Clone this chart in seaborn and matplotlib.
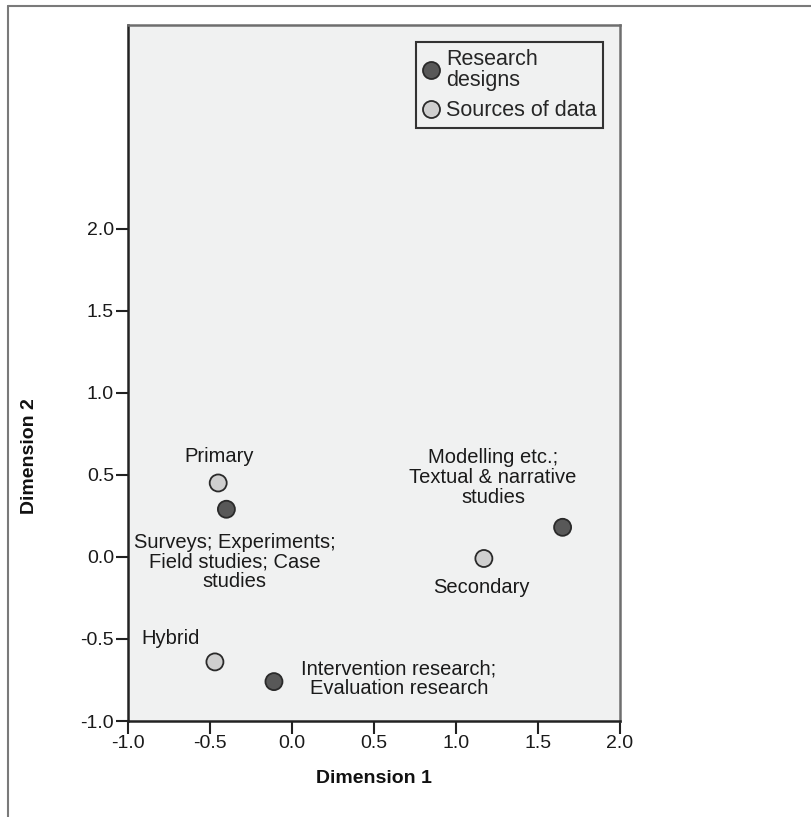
import numpy as np
import pandas as pd
import matplotlib
matplotlib.use("Agg")
import matplotlib.pyplot as plt
from matplotlib.lines import Line2D
import seaborn as sns

# Category points (joint plot of category points)
labels = ["Primary", "Secondary", "Hybrid",
          "Surveys; Experiments;\nField studies; Case\nstudies",
          "Intervention research;\nEvaluation research",
          "Modelling etc.;\nTextual & narrative\nstudies"]
groups = ["Sources of data", "Sources of data", "Sources of data",
          "Research designs", "Research designs", "Research designs"]
dim1 = [-0.45, 1.17, -0.47, -0.40, -0.11, 1.65]
dim2 = [0.45, -0.01, -0.64, 0.29, -0.76, 0.18]

df = pd.DataFrame({"Dimension 1": dim1, "Dimension 2": dim2,
                   "group": groups, "label": labels})

sns.set_style("white")
plt.rcParams["font.family"] = ["Liberation Sans", "DejaVu Sans"]

fig = plt.figure(figsize=(8.11, 8.17), dpi=100)
ax = fig.add_axes([128 / 811, 96 / 817, 492 / 811, 696 / 817])
ax.set_facecolor("#f0f1f1")

palette = {"Research designs": "#585858", "Sources of data": "#cfcfcf"}
sns.scatterplot(data=df, x="Dimension 1", y="Dimension 2", hue="group",
                hue_order=["Research designs", "Sources of data"],
                palette=palette, s=150, edgecolor="#2a2a2a", linewidth=1.3,
                ax=ax, zorder=3)

# label offsets (points) relative to each marker
offsets = [(1, 19), (-2, -21), (-32, 17), (6, -38), (90, 2), (-50, 36)]
for (_, r), off in zip(df.iterrows(), offsets):
    ax.annotate(r["label"], (r["Dimension 1"], r["Dimension 2"]),
                xytext=off, textcoords="offset points",
                ha="center", va="center", multialignment="center",
                fontsize=14.5, color="#1a1a1a", linespacing=1.05)

ax.set_xlim(-1.0, 2.0)
ax.set_ylim(-1.0, 3.24)
ax.set_xticks(np.arange(-1.0, 2.01, 0.5))
ax.set_yticks(np.arange(-1.0, 2.01, 0.5))
ax.xaxis.set_major_formatter(matplotlib.ticker.FormatStrFormatter("%.1f"))
ax.yaxis.set_major_formatter(matplotlib.ticker.FormatStrFormatter("%.1f"))
ax.tick_params(axis="both", direction="out", length=9, width=1.5,
               color="#222222", labelsize=14, labelcolor="#1a1a1a", pad=1,
               bottom=True, left=True)

for side in ["left", "bottom"]:
    ax.spines[side].set_color("#222222")
    ax.spines[side].set_linewidth(1.8)
for side in ["top", "right"]:
    ax.spines[side].set_color("#6e6e6e")
    ax.spines[side].set_linewidth(1.8)

ax.set_xlabel("Dimension 1", fontsize=14, fontweight="bold", color="#111111")
ax.set_ylabel("Dimension 2", fontsize=14, fontweight="bold", color="#111111")
ax.xaxis.set_label_coords(0.5, -0.07)
ax.yaxis.set_label_coords(-0.183, 0.38)

handles, _ = ax.get_legend_handles_labels()
leg = ax.legend(handles, ["Research\ndesigns", "Sources of data"],
                loc="upper right", fontsize=15.5, frameon=True,
                fancybox=False, borderaxespad=0.8, handletextpad=0.3,
                handlelength=0.8, borderpad=0.3, labelspacing=0.45,
                facecolor="#f0f1f1", edgecolor="#333333", framealpha=1)
leg.get_frame().set_linewidth(1.5)
for t in leg.get_texts():
    t.set_linespacing(1.0)

# outer frame of the output viewer
fig.add_artist(Line2D([8 / 811, 8 / 811], [0, 1 - 6 / 817], color="#7a7a7a", lw=1.5))
fig.add_artist(Line2D([8 / 811, 1], [1 - 6 / 817, 1 - 6 / 817], color="#7a7a7a", lw=1.5))

fig.savefig("out.png", dpi=100)
